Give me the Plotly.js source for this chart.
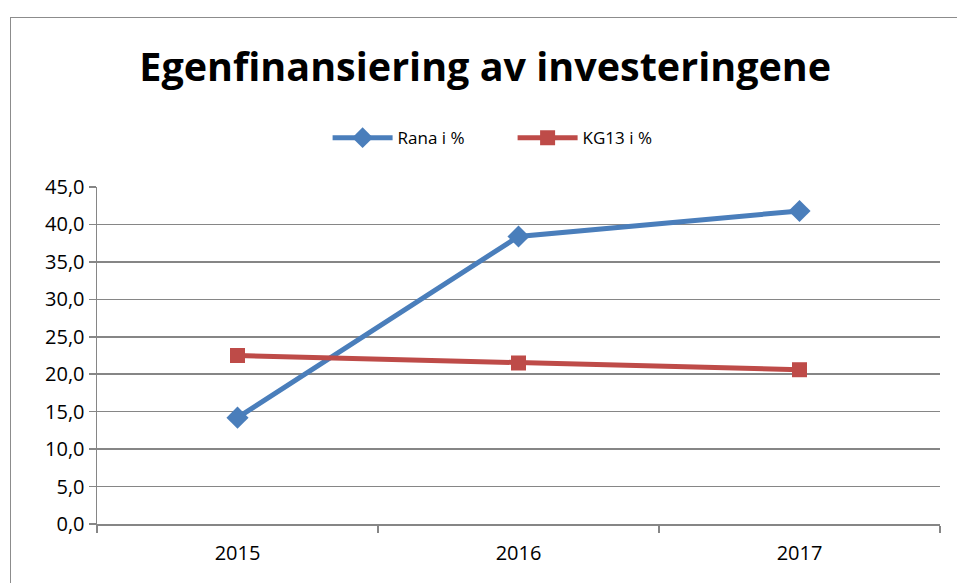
<!DOCTYPE html>
<html>
<head>
<meta charset="utf-8">
<script src="https://cdn.plot.ly/plotly-3.0.1.min.js"></script>
<style>
  body { margin: 0; background: #fff; }
  #chart { width: 957px; height: 583px; }
  #frame { position: absolute; left: 10px; top: 17px; width: 960px; height: 600px;
           border: 1.5px solid #8c8c8c; pointer-events: none; }
</style>
</head>
<body>
<div id="chart"></div>
<div id="frame"></div>
<script>
// Egenfinansiering av investeringene, Rana vs KG13 (prosent)
var years = ['2015', '2016', '2017'];
var ranaPct = [14.2, 38.4, 41.8];
var kg13Pct = [22.5, 21.5, 20.6];

var CHART = document.getElementById('chart');

var data = [
  {
    x: years, y: ranaPct, name: 'Rana i %',
    type: 'scatter', mode: 'lines+markers',
    line: { color: '#4a7ebb', width: 5 },
    marker: { symbol: 'diamond', size: 17, color: '#4a7ebb' }
  },
  {
    x: years, y: kg13Pct, name: 'KG13 i %',
    type: 'scatter', mode: 'lines+markers',
    line: { color: '#be4b48', width: 5 },
    marker: { symbol: 'square', size: 15, color: '#be4b48' }
  }
];

var layout = {
  width: 957, height: 583,
  margin: { l: 97, r: 17, t: 187, b: 59 },
  paper_bgcolor: '#fff', plot_bgcolor: '#fff',
  font: { family: '"Open Sans", Lato, sans-serif', color: '#000' },
  separators: ',.',
  title: {
    text: '<b>Egenfinansiering av investeringene</b>',
    font: { size: 39.5, family: '"Open Sans", Lato, sans-serif' },
    x: 0.507, xanchor: 'center', y: 0.885, yanchor: 'middle'
  },
  showlegend: true,
  legend: {
    orientation: 'h', x: 0.493, xanchor: 'center', y: 1.145, yanchor: 'middle',
    font: { size: 17 }, itemwidth: 60, entrywidth: 110
  },
  xaxis: {
    type: 'category', range: [-0.5, 2.5],
    showline: true, linecolor: '#868686', linewidth: 1.5,
    ticks: 'outside', tickson: 'boundaries', ticklen: 7, tickcolor: '#868686', tickwidth: 1.5,
    showgrid: false,
    tickfont: { size: 20 },
    ticklabelstandoff: 10,
    fixedrange: true
  },
  yaxis: {
    range: [0, 45], dtick: 5, tickformat: '.1f',
    showline: true, linecolor: '#868686', linewidth: 1.5,
    ticks: 'outside', ticklen: 7, tickcolor: '#868686', tickwidth: 1.5,
    showgrid: true, gridcolor: '#868686', gridwidth: 1.5,
    zeroline: false,
    tickfont: { size: 20 },
    fixedrange: true
  }
};

Plotly.newPlot(CHART, data, layout, { displayModeBar: false, staticPlot: true });
</script>
</body>
</html>
